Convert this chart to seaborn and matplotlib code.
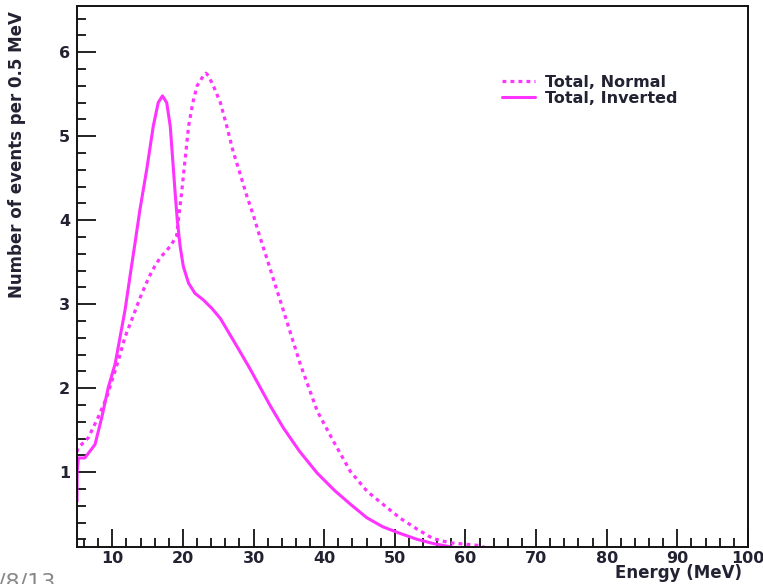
import matplotlib
matplotlib.use("Agg")
import matplotlib.pyplot as plt
import seaborn as sns
import pandas as pd
from matplotlib.ticker import MultipleLocator

# ---- data ----
energy_inverted = [5.0, 5.02, 5.2, 6.1, 7.55, 8.5, 9.43, 10.4, 11.1, 11.8, 12.5, 13.2, 13.9,
                   14.9, 15.8, 16.5, 17.1, 17.7, 18.2, 18.55, 18.9, 19.2, 19.6, 20.05, 20.8,
                   21.7, 22.9, 24.1, 25.3, 27.7, 29.5, 32.3, 34.2, 36.5, 39.0, 41.5, 43.7,
                   46.0, 48.3, 50.8, 53.2, 55.5, 57.4, 60.0]
events_inverted = [0.65, 1.0, 1.17, 1.17, 1.33, 1.65, 2.01, 2.29, 2.61, 2.93, 3.33, 3.72, 4.12,
                   4.62, 5.12, 5.40, 5.48, 5.40, 5.12, 4.72, 4.32, 4.0, 3.69, 3.45, 3.25,
                   3.13, 3.05, 2.95, 2.83, 2.49, 2.23, 1.8, 1.53, 1.25, 0.99, 0.78, 0.62,
                   0.46, 0.35, 0.27, 0.2, 0.15, 0.12, 0.08]

energy_normal = [5.0, 5.15, 6.6, 7.97, 9.2, 10.1, 10.85, 11.8, 13.0, 13.9, 14.6, 15.3, 16.0,
                 16.75, 18.2, 19.1, 19.35, 19.8, 20.3, 20.8, 21.4, 22.0, 22.9, 23.25, 23.6,
                 24.3, 25.3, 26.2, 27.1, 28.1, 29.0, 30.0, 30.9, 31.9, 32.8, 34.2, 36.6,
                 39.0, 41.3, 43.7, 46.1, 48.3, 50.8, 53.2, 55.4, 57.8, 61.7, 63.0]
events_normal = [1.24, 1.29, 1.41, 1.65, 1.89, 2.13, 2.33, 2.61, 2.87, 3.07, 3.21, 3.34, 3.45,
                 3.55, 3.69, 3.81, 4.0, 4.32, 4.72, 5.12, 5.40, 5.6, 5.72, 5.75, 5.72,
                 5.6, 5.40, 5.12, 4.82, 4.55, 4.3, 4.05, 3.8, 3.54, 3.3, 2.93, 2.29,
                 1.73, 1.37, 1.01, 0.77, 0.62, 0.45, 0.32, 0.21, 0.16, 0.13, 0.1]

x_ticks = [10, 20, 30, 40, 50, 60, 70, 80, 90, 100]
y_ticks = [1, 2, 3, 4, 5, 6]

label_normal = "Total, Normal"
label_inverted = "Total, Inverted"

df_normal = pd.DataFrame({"Energy": energy_normal, "Events": events_normal})
df_inverted = pd.DataFrame({"Energy": energy_inverted, "Events": events_inverted})

sns.set_style("ticks")
plt.rcParams["font.family"] = ["DejaVu Sans"]
plt.rcParams["font.weight"] = "bold"

fig = plt.figure(figsize=(7.63, 5.84), dpi=100)
ax = fig.add_axes([77 / 763, 1 - 547 / 584, (748 - 77) / 763, (547 - 6) / 584])

magenta = "#ff33ff"
sns.lineplot(data=df_normal, x="Energy", y="Events", ax=ax, color=magenta, lw=2.3,
             linestyle=(0, (1.2, 1.3)), estimator=None, sort=False, label=label_normal,
             dash_joinstyle="round")
sns.lineplot(data=df_inverted, x="Energy", y="Events", ax=ax, color=magenta, lw=2.2,
             linestyle="-", estimator=None, sort=False, label=label_inverted,
             solid_joinstyle="round", solid_capstyle="round")

ax.set_xlim(5, 100)
ax.set_ylim(0.11, 6.55)
ax.set_xticks(x_ticks)
ax.set_yticks(y_ticks)
ax.xaxis.set_minor_locator(MultipleLocator(2))
ax.yaxis.set_minor_locator(MultipleLocator(0.2))
ax.tick_params(which="both", direction="in", top=False, right=False, color="#222222",
               width=1.4)
ax.tick_params(which="major", axis="x", length=13, pad=3, labelsize=11.5)
ax.tick_params(which="minor", axis="x", length=6.5)
ax.tick_params(which="major", axis="y", length=14, pad=5, labelsize=11.5)
ax.tick_params(which="minor", axis="y", length=6.5)
for lab in ax.get_xticklabels() + ax.get_yticklabels():
    lab.set_fontweight("bold")
    lab.set_color("#222233")
for sp in ax.spines.values():
    sp.set_linewidth(1.4)
    sp.set_color("#111111")

ax.set_xlabel("Energy (MeV)", loc="right", fontsize=12, fontweight="bold", color="#222233")
ax.xaxis.set_label_coords(0.991, -0.031)
ax.set_ylabel("Number of events per 0.5 MeV", loc="top", fontsize=12, fontweight="bold",
              color="#222233")
ax.yaxis.set_label_coords(-0.076, 0.99)

leg = ax.legend(loc="upper left", bbox_to_anchor=(0.633, 0.873), frameon=False,
                borderaxespad=0, borderpad=0, handlelength=2.1, handletextpad=0.6,
                labelspacing=0.05, prop={"size": 11.5, "weight": "bold"})
for t in leg.get_texts():
    t.set_color("#222233")

fig.text(-0.002, -0.014, "/8/13", color="#888888", fontsize=16, fontweight="normal",
         ha="left", va="bottom")

fig.savefig("out.png", dpi=100)
